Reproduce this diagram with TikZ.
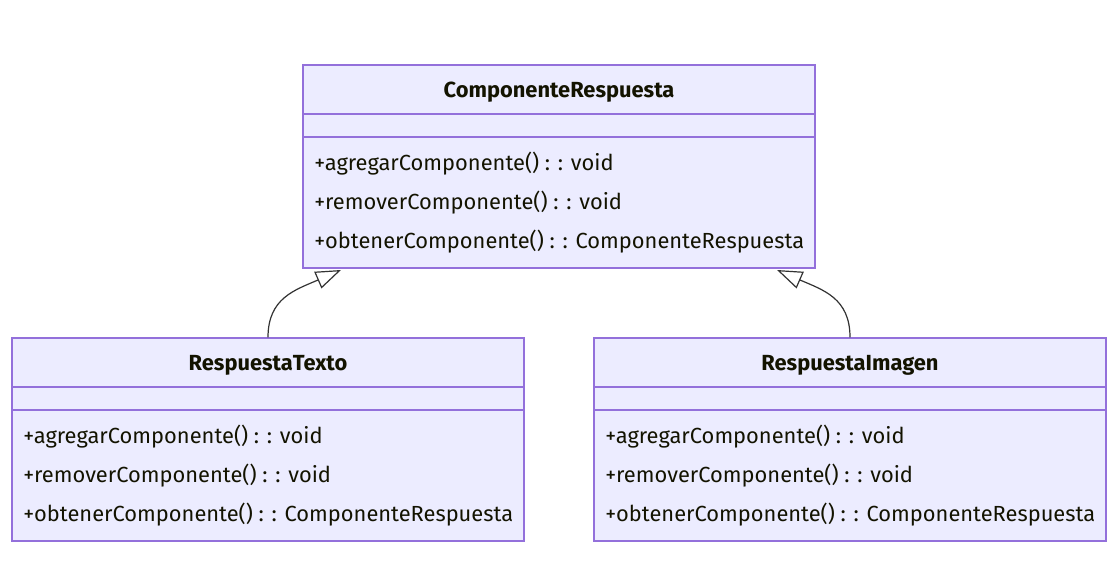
\documentclass[tikz,border=0pt]{standalone}
\usepackage{fontspec}
\setmainfont{Fira Sans}
\usetikzlibrary{arrows.meta}
\definecolor{boxfill}{HTML}{ECECFF}
\definecolor{boxdraw}{HTML}{9370DB}
\definecolor{txt}{HTML}{131300}
\definecolor{edge}{HTML}{333333}
\begin{document}
\begin{tikzpicture}[x=0.75pt,y=-0.75pt,
  classbox/.style={draw=boxdraw,fill=boxfill,line width=1pt,minimum width=384pt,minimum height=152.25pt,inner sep=0pt},
  divider/.style={draw=boxdraw,line width=1pt},
  title/.style={text=txt,font=\fontsize{16.4}{18}\selectfont\bfseries,inner sep=0pt},
  method/.style={text=txt,font=\fontsize{16.4}{18}\selectfont,anchor=west,inner sep=0pt},
  inherit/.style={draw=edge,line width=0.9pt,-{Triangle[open,length=19pt,width=13.5pt,fill=white]}}
]
\useasboundingbox (0,0) rectangle (1116,570);
\fill[white] (0,0) rectangle (1116,570);

% Top class
\node[classbox] (cr) at (559,166.5) {};
\draw[divider] (303,114) -- (815,114);
\draw[divider] (303,137) -- (815,137);
\node[title] (crt) at (559,92) {ComponenteRespuesta};
\node[method] (crm1) at (314,164) {+agregarComponente() : : void};
\node[method] (crm2) at (314,203) {+removerComponente() : : void};
\node[method] (crm3) at (314,242) {+obtenerComponente() : : ComponenteRespuesta};

% Left class
\node[classbox] (rt) at (268,439.5) {};
\draw[divider] (12,387) -- (524,387);
\draw[divider] (12,410) -- (524,410);
\node[title] (rtt) at (268,365) {RespuestaTexto};
\node[method] (rtm1) at (23,437) {+agregarComponente() : : void};
\node[method] (rtm2) at (23,476) {+removerComponente() : : void};
\node[method] (rtm3) at (23,515) {+obtenerComponente() : : ComponenteRespuesta};

% Right class
\node[classbox] (ri) at (850,439.5) {};
\draw[divider] (594,387) -- (1106,387);
\draw[divider] (594,410) -- (1106,410);
\node[title] (rit) at (850,365) {RespuestaImagen};
\node[method] (rim1) at (605,437) {+agregarComponente() : : void};
\node[method] (rim2) at (605,476) {+removerComponente() : : void};
\node[method] (rim3) at (605,515) {+obtenerComponente() : : ComponenteRespuesta};

% Inheritance
\coordinate (tipL) at (341,270);
\coordinate (tipR) at (777,270);
\draw[inherit] (rt.north) .. controls (268,298) and (295,290) .. (tipL);
\draw[inherit] (ri.north) .. controls (850,298) and (823,290) .. (tipR);
\end{tikzpicture}
\end{document}
